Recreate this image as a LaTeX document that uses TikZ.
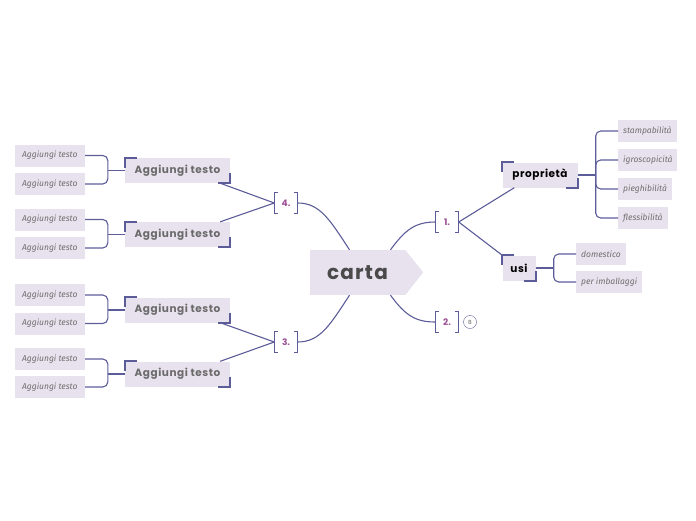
\documentclass[tikz,border=0pt]{standalone}
\usepackage{fontspec}
\setmainfont{Poppins}
\newfontfamily\leaffont{Fira Sans}
\usepackage{tikz}
\usetikzlibrary{positioning, calc}
\definecolor{linkcol}{HTML}{5C5C99}
\definecolor{boxfill}{HTML}{E8E2EE}
\definecolor{numcol}{HTML}{9B4F96}
\definecolor{topicgray}{HTML}{6B6B6B}
\definecolor{hubgray}{HTML}{4A4A4A}
\definecolor{leafgray}{HTML}{6E6E6E}

\begin{document}
\begin{tikzpicture}[x=1pt, y=-1pt,
  link/.style={draw=linkcol, line width=1.1pt},
  hub/.style={fill=boxfill, minimum width=95pt, minimum height=45pt, inner sep=0pt,
              font=\fontsize{20}{22}\selectfont\bfseries\addfontfeature{LetterSpace=6}, text=hubgray},
  topic/.style={fill=boxfill, minimum width=105pt, minimum height=25pt, inner sep=0pt,
                font=\fontsize{10.5}{12}\selectfont\bfseries\addfontfeature{LetterSpace=5}, text=topicgray},
  leaf/.style={fill=boxfill, minimum height=22pt, inner xsep=5pt,
               font=\leaffont\itshape\fontsize{8.5}{10}\selectfont, text=leafgray},
  num/.style={minimum width=23pt, minimum height=20pt, inner sep=0pt,
              font=\fontsize{9}{10}\selectfont\bfseries, text=numcol},
  corner/.style={draw=linkcol, line width=2pt},
]
  \useasboundingbox (0,0) rectangle (696,520);

  % central topic
  \node[hub] (carta) at (357.5,272.5) {carta};
  \fill[boxfill] (carta.north east) -- ++(18,22.5) -- (carta.south east) -- cycle;

  % numbered branches
  \node[num] (n4) at (286,203) {4.};
  \node[num] (n3) at (286,342) {3.};
  \node[num] (n1) at (447,222) {1.};
  \node[num] (n2) at (447,322) {2.};
  \foreach \n in {n1,n2,n3,n4} {
    \draw[link] ([xshift=4pt]\n.north west) -- (\n.north west) -- (\n.south west) -- ++(4,0);
    \draw[link] ([xshift=-4pt]\n.north east) -- (\n.north east) -- (\n.south east) -- ++(-4,0);
  }
  \node[draw=linkcol, circle, minimum size=13pt, inner sep=0pt,
        font=\leaffont\fontsize{6}{6}\selectfont, text=topicgray] (note) at (470,322) {B};

  \draw[link] ([xshift=-8pt]carta.north) .. controls (330,220) and (320,203) .. (n4.east);
  \draw[link] ([xshift=-8pt]carta.south) .. controls (330,325) and (320,342) .. (n3.east);
  \draw[link] ([xshift=33pt]carta.north) .. controls (405,230) and (415,222) .. (n1.west);
  \draw[link] ([xshift=33pt]carta.south) .. controls (405,315) and (415,322) .. (n2.west);

  % left side
  \node[topic] (a4a) at (177.5,170.5) {Aggiungi testo};
  \node[topic] (a4b) at (177.5,234.5) {Aggiungi testo};
  \node[topic] (a3a) at (177.5,310) {Aggiungi testo};
  \node[topic] (a3b) at (177.5,374) {Aggiungi testo};
  \draw[link] (n4.west) -- ([xshift=-10pt]a4a.south east);
  \draw[link] (n4.west) -- ([xshift=-10pt]a4b.north east);
  \draw[link] (n3.west) -- ([xshift=-10pt]a3a.south east);
  \draw[link] (n3.west) -- ([xshift=-10pt]a3b.north east);

  \node[leaf, anchor=east, minimum width=70pt] (l1) at (85,155.5) {Aggiungi testo};
  \node[leaf, anchor=east, minimum width=70pt] (l2) at (85,184) {Aggiungi testo};
  \node[leaf, anchor=east, minimum width=70pt] (l3) at (85,219.5) {Aggiungi testo};
  \node[leaf, anchor=east, minimum width=70pt] (l4) at (85,248) {Aggiungi testo};
  \node[leaf, anchor=east, minimum width=70pt] (l5) at (85,295) {Aggiungi testo};
  \node[leaf, anchor=east, minimum width=70pt] (l6) at (85,323.5) {Aggiungi testo};
  \node[leaf, anchor=east, minimum width=70pt] (l7) at (85,359) {Aggiungi testo};
  \node[leaf, anchor=east, minimum width=70pt] (l8) at (85,387) {Aggiungi testo};
  \foreach \t/\a/\b in {a4a/l1/l2, a4b/l3/l4, a3a/l5/l6, a3b/l7/l8} {
    \draw[link, rounded corners=5pt] (\a.east) -| ([xshift=-17pt]\t.west) |- (\b.east);
    \draw[link] (\t.west) -- ++(-17,0);
  }

  % right side
  \node[topic, text=black, minimum width=75pt] (prop) at (540,175) {proprietà};
  \node[topic, text=black, minimum width=33pt] (usi) at (519,268) {usi};
  \draw[link] (n1.east) -- ([xshift=12pt]prop.south west);
  \draw[link] (n1.east) -- (usi.north west);

  \node[leaf, anchor=west] (r1) at (618,131) {stampabilità};
  \node[leaf, anchor=west] (r2) at (618,160) {igroscopicità};
  \node[leaf, anchor=west] (r3) at (618,189) {pieghibilità};
  \node[leaf, anchor=west] (r4) at (618,218) {flessibilità};
  \draw[link] (prop.east) -- ++(18,0);
  \foreach \r in {r1,r2,r3,r4}
    \draw[link, rounded corners=5pt] ([xshift=18pt]prop.east) |- (\r.west);

  \node[leaf, anchor=west] (u1) at (576,254) {domestico};
  \node[leaf, anchor=west] (u2) at (576,282) {per imballaggi};
  \draw[link] (usi.east) -- ++(18,0);
  \foreach \u in {u1,u2}
    \draw[link, rounded corners=5pt] ([xshift=18pt]usi.east) |- (\u.west);

  % bracket corners on the topic boxes
  \foreach \t in {a4a,a4b,a3a,a3b,prop,usi} {
    \draw[corner] ([xshift=12pt]\t.north west) -- (\t.north west) -- ++(0,10);
    \draw[corner] ([xshift=-12pt]\t.south east) -- (\t.south east) -- ++(0,-10);
  }
\end{tikzpicture}
\end{document}
